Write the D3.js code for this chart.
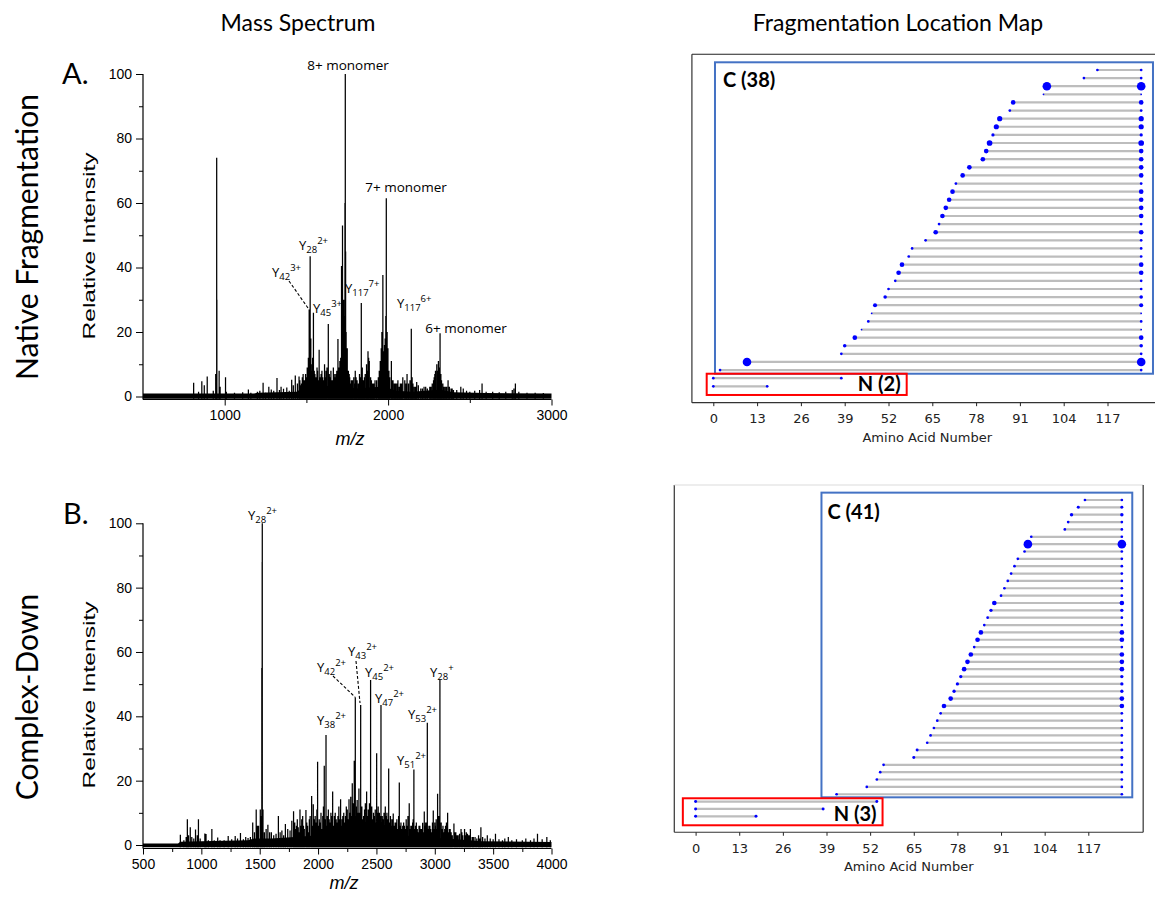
<!DOCTYPE html>
<html><head><meta charset="utf-8">
<script src="https://cdn.jsdelivr.net/npm/d3@7"></script>
<style>body{margin:0;background:#fff}</style>
</head><body><svg id="c" width="1155" height="901"></svg>
<script>
// ---------------- DATA ----------------
// Spectrum A (native fragmentation): [m/z, relative intensity]
const specAPeaks = [
 [810,4.3],[840,1.5],[860,4.7],[875,3.5],[893,6.2],[930,1.8],[945,7],[951,74],[952,30],[966,8],[972,3],[1005,6],[1010,1.5],
 [1060,1.2],[1110,1.3],[1145,2.2],[1160,1.2],[1200,1.5],[1215,1.8],[1235,4.3],[1250,1.2],[1270,3],[1285,2.2],[1300,1.8],
 [1320,5.7],[1335,2],[1345,3],[1360,2.4],[1380,2.8],[1395,1.8],[1410,5.2],[1420,3.5],[1432,6.5],[1445,4],[1455,6.2],
 [1465,3.5],[1475,6],[1485,5],[1495,7],[1505,9],[1512,12],[1517,27],[1523,43.5],[1527,18],[1535,10],[1543,26],[1548,8],
 [1556,6],[1565,9],[1572,5],[1578,14.5],[1590,7],[1600,6],[1611,10],[1620,8],[1634,22.5],[1640,7],[1655,5],[1665,9],
 [1680,7],[1693,17.8],[1705,11],[1715,40.5],[1721,53],[1728,30],[1733,25],[1736,60],[1738,100],[1740,45],[1743,20],
 [1750,15],[1757,8],[1765,6],[1775,5],[1790,6],[1799,8],[1810,5],[1825,7],[1836,29],[1842,9],[1855,6],[1868,10],
 [1877,14],[1885,11],[1893,6],[1905,4],[1920,5],[1940,6],[1952,11],[1958,15],[1962,20],[1968,37.7],[1975,14],[1982,18],
 [1989,61.5],[1994,20],[1999,15],[2005,8],[2020,11],[2030,5],[2045,4],[2060,5],[2075,4],[2090,6],[2102,5],[2116,7],
 [2125,4],[2142,21],[2147,6],[2160,3],[2175,4.5],[2185,3.5],[2200,2.5],[2220,3],[2240,2.5],[2255,3],[2270,4],[2282,6],
 [2290,8],[2298,10],[2305,7],[2312,9],[2318,19.6],[2323,7],[2335,4],[2350,3],[2367,5],[2385,2.5],[2400,2],[2420,2],
 [2445,3],[2460,2.5],[2480,1.8],[2500,1.5],[2530,1.8],[2560,2],[2575,4],[2600,1.5],[2640,1.5],[2680,1.3],[2720,1.5],
 [2760,2],[2770,2.5],[2779,4],[2800,1.5],[2850,1.2],[2900,1.2],[2950,1.1],
 [1460,5],[1470,4],[1480,7],[1490,5],[1500,6],[1508,8],[1530,8],[1538,12],[1552,7],[1560,6],[1568,8],[1584,6],[1595,8],
 [1605,5],[1615,6],[1626,9],[1645,6],[1650,8],[1660,5],[1670,7],[1675,6],[1686,8],[1698,9],[1710,12],[1748,10],[1753,8],
 [1762,7],[1770,4],[1782,5],[1795,4],[1804,6],[1818,4],[1830,6],[1848,5],[1860,7],[1872,8],[1881,12],[1898,5],[1912,4],
 [1930,5],[1946,8],[1965,12],[1978,16],[1986,25],[2010,6],[2025,5],[2038,4],[2053,4],[2068,3],[2082,4],[2110,4],[2134,5],
 [2152,4],[2168,3],[2210,2.5],[2230,3],[2262,3],[2278,5],[2286,7],[2302,8],[2308,11],[2327,5],[2342,3],[2358,3],[2375,3],[2392,2.5]
];
const specAFloor = [[500,0.9],[1180,0.9],[1200,1.2],[1440,1.5],[1470,2.5],[1560,3],[1700,3.5],[1760,3],[1800,2.5],
 [1950,3],[2010,2.5],[2050,1.8],[2150,1.5],[2280,2],[2330,2],[2400,1.3],[2600,1.1],[3000,0.9]];

// Spectrum B (complex-down)
const specBPeaks = [
 [820,3.2],[850,1.5],[870,2.5],[880,8],[890,3],[905,5.5],[918,2.5],[935,2],[950,4.8],[965,3],[975,8],[990,2],[1030,3.6],
 [1040,3.4],[1060,1.5],[1090,5],[1110,1.5],[1140,2.3],[1160,1.5],[1195,1.5],[1230,2.8],[1260,1.8],[1290,2.8],[1310,2],
 [1335,3.7],[1360,1.8],[1380,2.5],[1400,2.2],[1420,2.5],[1440,7],[1455,4],[1470,11],[1480,6],[1490,6],[1505,11],[1512,9],
 [1518,55],[1521,88],[1522,100],[1528,11],[1540,4],[1555,5],[1570,6.3],[1585,4],[1600,4],[1620,3],[1640,3.5],[1660,9],
 [1675,4],[1690,4.5],[1705,3],[1720,6.5],[1740,5],[1760,4.5],[1775,7.5],[1790,10.5],[1800,7],[1815,6],[1830,5.5],
 [1845,11],[1860,8],[1875,6],[1896,10.9],[1910,6],[1925,8],[1945,15.2],[1959,12.7],[1975,9],[1985,7],[1996,25.9],
 [2010,8],[2025,10],[2040,9],[2053,24.6],[2068,34.2],[2080,9],[2095,8],[2110,10],[2125,16.6],[2140,9],[2155,8],[2170,9],
 [2193,14.2],[2205,8],[2220,10],[2235,9],[2250,11],[2265,14.2],[2280,15],[2293,19.2],[2310,26.2],[2319,45.9],[2330,12],
 [2340,10],[2350,17.6],[2365,43.5],[2375,12],[2390,9],[2405,13],[2416,16.6],[2430,11],[2440,13],[2450,51.3],[2460,12],
 [2475,10],[2490,11],[2502,28.5],[2515,12],[2525,10],[2539,43.5],[2550,9],[2565,10],[2576,12],[2590,10],[2605,23.8],
 [2620,9],[2632,8],[2644,9.8],[2660,7],[2675,8],[2696,19.4],[2710,7],[2725,6],[2740,6],[2755,8],[2781,13],[2795,6],
 [2810,7],[2821,23.5],[2835,6],[2850,5],[2865,6],[2880,5],[2896,6.9],[2910,10.4],[2922,7],[2936,38],[2950,6],[2965,5],
 [2987,10.7],[3000,7],[3012,8],[3024,15.9],[3034,9],[3044,51.5],[3055,7],[3070,6],[3085,5],[3100,7],[3110,10],[3125,5],
 [3140,4],[3164,6.7],[3180,4],[3200,3],[3225,5],[3240,3],[3255,5],[3270,4],[3290,3],[3305,5],[3330,2.5],[3360,2],
 [3395,5.5],[3410,2.5],[3430,2],[3450,3],[3475,2],[3500,1.8],[3520,3.5],[3550,1.8],[3580,1.5],[3600,2],[3630,2.5],
 [3660,1.5],[3700,1.8],[3750,1.5],[3780,2],[3820,1.5],[3850,2],[3880,3.5],[3920,1.8],[3960,2.5],[3990,1.5],
 [1805,5],[1822,8],[1838,4],[1852,6],[1868,9],[1882,5],[1903,7],[1917,4],[1932,9],[1952,6],[1967,8],[1980,5],[1990,11],
 [2003,6],[2017,7],[2032,5],[2046,12],[2060,8],[2074,6],[2088,11],[2102,7],[2118,9],[2132,6],[2147,10],[2162,7],[2178,12],
 [2186,8],[2200,6],[2212,9],[2227,7],[2242,12],[2258,8],[2272,10],[2287,9],[2300,13],[2325,9],[2335,14],[2345,8],[2358,10],
 [2383,8],[2398,11],[2410,7],[2423,9],[2435,8],[2445,10],[2468,8],[2482,9],[2496,7],[2508,10],[2520,8],[2532,9],[2545,7],
 [2558,8],[2570,6],[2583,9],[2597,8],[2612,7],[2626,6],[2638,8],[2652,6],[2668,7],[2683,5],[2690,9],[2703,6],[2717,5],
 [2733,7],[2748,5],[2762,6],[2770,9],[2788,5],[2802,6],[2815,8],[2828,5],[2842,7],[2858,4],[2872,6],[2888,5],[2903,4],
 [2916,6],[2930,7],[2944,5],[2958,6],[2972,4],[2980,7],[2994,5],[3006,6],[3018,5],[3040,6],[3062,5],[3078,4],[3092,6],
 [3118,4],[3132,5],[3150,3],[3172,4],[3190,3],[3212,3.5],[3232,4],[3262,3],[3280,3.5],[3298,3],[3320,2.5],[3345,2.5],
 [3375,3],[3385,2]
];
const specBFloor = [[500,0.5],[800,0.5],[820,1],[1000,1.2],[1400,1.5],[1450,2],[1600,2],[1800,2.5],[2000,3],[2200,3.5],
 [2400,4],[2550,3.5],[2700,3],[2900,2.5],[3100,2],[3300,1.5],[3400,1.2],[4000,0.9]];

const specYTicks = [0,20,40,60,80,100];
const specYMinor = [10,30,50,70,90];
const specAXTicks = [1000,2000,3000];
const specAXMinor = [1500,2500];
const specBXTicks = [500,1000,1500,2000,2500,3000,3500,4000];
const specBXMinor = [750,1250,1750,2250,2750,3250,3750];

const annA = [{sub:"28",sup:"2+"},{sub:"42",sup:"3+"},{sub:"45",sup:"3+"},{sub:"117",sup:"7+"},{sub:"117",sup:"6+"}];
const annATexts = ["8+ monomer","7+ monomer","6+ monomer"];
const annB = [{sub:"28",sup:"2+"},{sub:"42",sup:"2+"},{sub:"43",sup:"2+"},{sub:"45",sup:"2+"},{sub:"47",sup:"2+"},
 {sub:"38",sup:"2+"},{sub:"53",sup:"2+"},{sub:"51",sup:"2+"},{sub:"28",sup:"+"}];

// Fragmentation maps (rows bottom -> top). Protein length 127.
const proteinEnd = 127;
const mapATicks = [0,13,26,39,52,65,78,91,104,117];
const mapANEnd = [16,38];
const mapANSize = [1,1];
const mapACStart = [2,10,38,39,42,44,46,47,48,51,52,54,55,56,58,59,63,66,67,68,69,70,71,72,74,76,80,81,82,83,84,85,88,89,98,99,110,114];
const mapACSize  = [1,7,1,1.6,2.5,0.5,1,0.5,2,1.6,1,1,2.5,2.5,1,1,1,2.5,1,2.5,2.5,2.5,2.5,1,2.5,2.5,2.5,2.5,3.5,1.4,3,3,1,2.5,0.5,7,1,1];

const mapBNEnd = [18,38,54];
const mapBNSize = [1.2,1.2,1.2];
const mapBCStart = [42,51,54,55,56,65,66,69,70,71,72,73,74,76,77,78,79,80,81,82,83,84,85,86,87,88,89,91,92,93,94,95,96,98,99,100,110,111,112,114,116];
const mapBCSize  = [1,1,1,1,1,1.2,1.2,1,1,1,1,1,2.5,2.5,1.4,1.4,1.4,2.5,2.5,2.5,1,2.5,2.5,1,1,1.4,2.5,1,1,1,1,1,1,1,7,1,1,1,1.5,1.2,1];

// ---------------- DRAW ----------------
const svg = d3.select("#c");
const ARIAL = "'Liberation Sans', Arial, sans-serif";
const CAL = "Lato, 'Open Sans', sans-serif";
const DJV = "'DejaVu Sans', sans-serif";
const ANN = "'Open Sans', sans-serif";

svg.append("text").attr("x",298).attr("y",31).attr("text-anchor","middle").style("font-family",CAL).style("font-size","23px").text("Mass Spectrum");
svg.append("text").attr("x",898).attr("y",31).attr("text-anchor","middle").style("font-family",CAL).style("font-size","23px").text("Fragmentation Location Map");
svg.append("text").attr("transform","translate(38,237) rotate(-90)").attr("text-anchor","middle").style("font-family",CAL).style("font-size","30px").text("Native Fragmentation");
svg.append("text").attr("transform","translate(38,697) rotate(-90)").attr("text-anchor","middle").style("font-family",CAL).style("font-size","30px").text("Complex-Down");
svg.append("text").attr("x",62).attr("y",84).style("font-family",CAL).style("font-size","29px").text("A.");
svg.append("text").attr("x",63).attr("y",524).style("font-family",CAL).style("font-size","29px").text("B.");

function drawSpectrum(cfg){
  const g = svg.append("g");
  const x = d3.scaleLinear().domain(cfg.xDomain).range([143,551.5]);
  const y = d3.scaleLinear().domain([0,100]).range([cfg.y0, cfg.y100]);
  g.append("path").datum(cfg.floor)
    .attr("d", d3.area().x(d=>x(d[0])).y0(y(-0.7)).y1(d=>y(d[1])))
    .attr("fill","#000");
  g.append("path")
    .attr("d", cfg.peaks.map(p=>`M${x(p[0]).toFixed(2)},${y(-0.7).toFixed(2)}V${y(p[1]).toFixed(2)}`).join(""))
    .attr("stroke","#000").attr("stroke-width",1.25).attr("fill","none");
  const fmt = d3.format("d");
  const ya = g.append("g").attr("transform","translate(143,0)")
    .call(d3.axisLeft(y).tickValues(specYTicks).tickFormat(fmt).tickSize(7).tickPadding(4).tickSizeOuter(0));
  const ym = g.append("g").attr("transform","translate(143,0)")
    .call(d3.axisLeft(y).tickValues(specYMinor).tickSize(4).tickFormat("").tickSizeOuter(0));
  ya.select(".domain").remove(); ym.select(".domain").remove();
  const xa = g.append("g").attr("transform",`translate(0,${cfg.axisY})`)
    .call(d3.axisBottom(x).tickValues(cfg.xTicks).tickFormat(fmt).tickSize(6).tickPadding(5).tickSizeOuter(0));
  const xm = g.append("g").attr("transform",`translate(0,${cfg.axisY})`)
    .call(d3.axisBottom(x).tickValues(cfg.xMinor).tickSize(3.5).tickFormat("").tickSizeOuter(0));
  xa.select(".domain").remove(); xm.select(".domain").remove();
  g.append("line").attr("x1",143).attr("x2",143).attr("y1",y(100)).attr("y2",cfg.axisY).attr("stroke","#000").attr("stroke-width",1.2);
  g.append("line").attr("x1",143).attr("x2",551.5).attr("y1",cfg.axisY).attr("y2",cfg.axisY).attr("stroke","#000").attr("stroke-width",1.2);
  g.selectAll(".tick line").attr("stroke","#000");
  g.selectAll(".tick text").style("font-family",ARIAL).style("font-size","14px").attr("fill","#000");
  g.append("text").attr("transform",`translate(95,${cfg.labCy}) rotate(-90)`).attr("text-anchor","middle")
    .attr("textLength",187).attr("lengthAdjust","spacingAndGlyphs")
    .style("font-family",ARIAL).style("font-size","17px").text("Relative Intensity");
  g.append("text").attr("x",cfg.mzX).attr("y",cfg.mzY).attr("text-anchor","middle")
    .style("font-family",ARIAL).style("font-size","18px").style("font-style","italic").text("m/z");
  return g;
}

function yLabel(g, a, px, py){
  const t = g.append("text").attr("x",px).attr("y",py).style("font-family",ANN).style("font-size","13px");
  t.append("tspan").text("Y");
  t.append("tspan").attr("dy",3).style("font-size","9.5px").text(a.sub);
  t.append("tspan").attr("dy",-9).style("font-size","9.5px").text(a.sup);
}

const gA = drawSpectrum({xDomain:[500,3000], y0:396.5, y100:74, axisY:399.5, peaks:specAPeaks, floor:specAFloor,
  xTicks:specAXTicks, xMinor:specAXMinor, labCy:246, mzX:350, mzY:445});
const posA = [[299,250],[272,277],[313,313],[345,293],[397,308]];
annA.forEach((a,i)=>yLabel(gA,a,posA[i][0],posA[i][1]));
const posAT = [[348,70],[406,192],[466,333]];
annATexts.forEach((s,i)=>gA.append("text").attr("x",posAT[i][0]).attr("y",posAT[i][1]).attr("text-anchor","middle")
  .style("font-family",ANN).style("font-size","13.5px").text(s));
gA.append("line").attr("x1",289).attr("y1",281).attr("x2",308).attr("y2",308).attr("stroke","#000").attr("stroke-dasharray","3,2").attr("stroke-width",1.1);

const gB = drawSpectrum({xDomain:[500,4000], y0:845, y100:523.3, axisY:848.5, peaks:specBPeaks, floor:specBFloor,
  xTicks:specBXTicks, xMinor:specBXMinor, labCy:695, mzX:344, mzY:889});
const posB = [[248,520],[317,672],[348,656],[365,677],[375,703],[317,725],[408,719],[397,765],[430,677]];
annB.forEach((a,i)=>yLabel(gB,a,posB[i][0],posB[i][1]));
gB.append("line").attr("x1",333).attr("y1",676).attr("x2",355).attr("y2",697).attr("stroke","#000").attr("stroke-dasharray","3,2").attr("stroke-width",1.1);
gB.append("line").attr("x1",356).attr("y1",661).attr("x2",360).attr("y2",703).attr("stroke","#000").attr("stroke-dasharray","3,2").attr("stroke-width",1.1);

// ---------- maps ----------
const rScale = d3.scalePow().exponent(0.6).domain([0,7]).range([0,4.3]);
function drawMap(cfg){
  const g = svg.append("g");
  const x = d3.scaleLinear().domain([0,117]).range(cfg.xr);
  const nRows = cfg.nEnd.length + cfg.cStart.length;
  const y = d3.scaleLinear().domain([0,nRows-1]).range(cfg.yr);
  const rows = [];
  cfg.nEnd.forEach((e,i)=>rows.push({s:0,e:e,sz:cfg.nSize[i]}));
  cfg.cStart.forEach((s,i)=>rows.push({s:s,e:proteinEnd,sz:cfg.cSize[i]}));
  const clipId = "clip"+cfg.id;
  const xl = x(-6.35), xr = Math.min(x(133.35), 1155);
  const yt = y(nRows-1+cfg.topPad), yb = y(-cfg.botPad);
  svg.append("clipPath").attr("id",clipId).append("rect").attr("x",xl).attr("y",yt).attr("width",xr-xl).attr("height",yb-yt);
  const pg = g.append("g").attr("clip-path",`url(#${clipId})`);
  pg.selectAll("line.r").data(rows).join("line").attr("class","r")
    .attr("x1",d=>x(d.s)).attr("x2",d=>x(d.e)).attr("y1",(d,i)=>y(i)).attr("y2",(d,i)=>y(i))
    .attr("stroke","#bdbdbd").attr("stroke-width",2.2);
  const dots = [];
  rows.forEach((d,i)=>{dots.push({x:d.s,i:i,sz:d.sz});dots.push({x:d.e,i:i,sz:d.sz});});
  pg.selectAll("circle").data(dots).join("circle").attr("cx",d=>x(d.x)).attr("cy",d=>y(d.i)).attr("r",d=>rScale(d.sz)).attr("fill","#0000ff");
  const b = cfg.blue, r = cfg.red;
  g.append("rect").attr("x",x(b[0])).attr("y",y(b[3])).attr("width",x(b[1])-x(b[0])).attr("height",y(b[2])-y(b[3]))
    .attr("fill","none").attr("stroke","#4472c4").attr("stroke-width",2);
  g.append("rect").attr("x",x(r[0])).attr("y",y(r[3])).attr("width",x(r[1])-x(r[0])).attr("height",y(r[2])-y(r[3]))
    .attr("fill","none").attr("stroke","#ff0000").attr("stroke-width",2);
  g.append("text").attr("x",x(b[0])+cfg.cOff[0]).attr("y",y(b[3])+cfg.cOff[1]).style("font-family",CAL).style("font-weight","700").style("font-size","20px").text(cfg.cLabel);
  g.append("text").attr("x",x(r[1])-cfg.nOff[0]).attr("y",y(r[2])+cfg.nOff[1]).attr("text-anchor","end").style("font-family",CAL).style("font-weight","700").style("font-size","20px").text(cfg.nLabel);
  const sp = "#333";
  g.append("line").attr("x1",xl).attr("x2",xl).attr("y1",yt).attr("y2",yb).attr("stroke",sp).attr("stroke-width",1.2);
  g.append("line").attr("x1",xl).attr("x2",xr).attr("y1",yb).attr("y2",yb).attr("stroke",sp).attr("stroke-width",1.2);
  g.append("line").attr("x1",xl).attr("x2",xr).attr("y1",yt).attr("y2",yt).attr("stroke",cfg.topColor).attr("stroke-width",1.2);
  if (x(133.35) <= 1155) g.append("line").attr("x1",xr).attr("x2",xr).attr("y1",yt).attr("y2",yb).attr("stroke",sp).attr("stroke-width",1.2);
  const ax = g.append("g").attr("transform",`translate(0,${yb})`)
    .call(d3.axisBottom(x).tickValues(mapATicks).tickSize(3.5).tickPadding(8).tickSizeOuter(0));
  ax.select(".domain").remove();
  ax.selectAll(".tick line").attr("stroke","#222");
  ax.selectAll(".tick text").style("font-family",DJV).style("font-size","13px").attr("fill","#222");
  g.append("text").attr("x",(xl+x(133.35))/2).attr("y",yb+39).attr("text-anchor","middle")
    .style("font-family",DJV).style("font-size","13px").attr("fill","#222").text("Amino Acid Number");
}

drawMap({id:"A", xr:[713.3,1107.5], yr:[386.3,70], nEnd:mapANEnd, nSize:mapANSize, cStart:mapACStart, cSize:mapACSize,
  topPad:1.94, botPad:2.02, blue:[0.5,130.5,1.55,39.95], red:[-1.96,57.4,-1.07,1.55], cLabel:"C (38)", nLabel:"N (2)",
  cOff:[8,25], nOff:[6,-4], topColor:"#222"});
drawMap({id:"B", xr:[695.6,1088.3], yr:[816.3,500], nEnd:mapBNEnd, nSize:mapBNSize, cStart:mapBCStart, cSize:mapBCSize,
  topPad:2.04, botPad:2.17, blue:[37.5,130.1,2.58,44.0], red:[-3.8,55.7,-1.22,2.45], cLabel:"C (41)", nLabel:"N (3)",
  cOff:[6,26], nOff:[6,-4], topColor:"#dcdcdc"});
</script></body></html>
